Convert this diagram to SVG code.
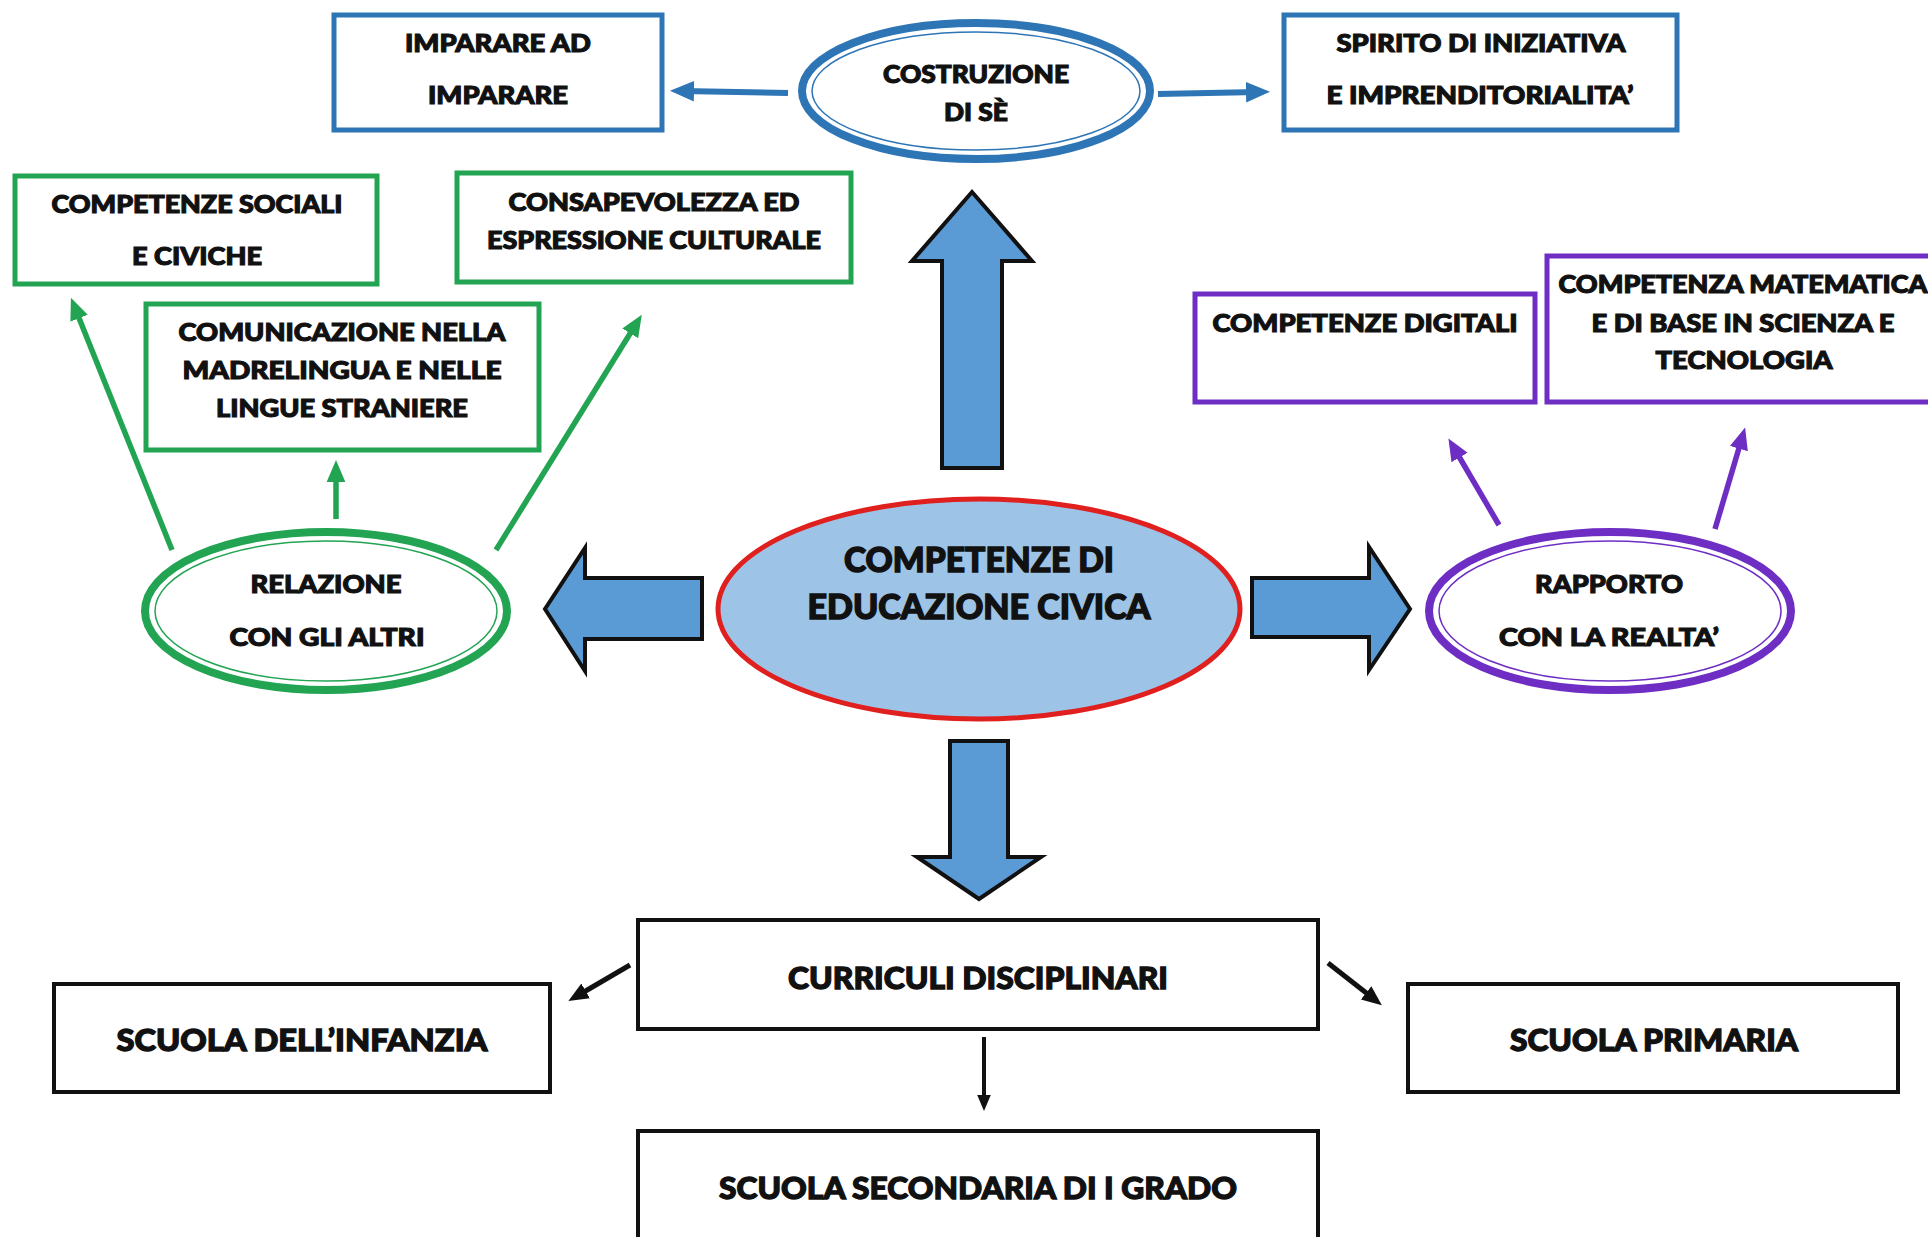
<svg xmlns="http://www.w3.org/2000/svg" width="1928" height="1237" viewBox="0 0 1928 1237">
<style>
.t{font-family:"Lato","Liberation Sans",sans-serif;font-weight:900;font-size:24px;fill:#111;stroke:#111;stroke-width:1.1px;text-anchor:middle}
.tb{font-size:34px;stroke-width:1.4px}
.tc{font-size:31px;stroke-width:1.3px}
.bbox{fill:#fff;stroke:#2E75B6;stroke-width:5}
.gbox{fill:#fff;stroke:#22A453;stroke-width:5}
.pbox{fill:#fff;stroke:#6E2EC4;stroke-width:5}
.kbox{fill:#fff;stroke:#111;stroke-width:4}
.blk{fill:#5B9BD5;stroke:#111;stroke-width:4;stroke-linejoin:miter}
</style>
<defs>
<marker id="mb" markerWidth="4" markerHeight="4" refX="2" refY="2" orient="auto" markerUnits="strokeWidth"><path d="M0,0.3 L4,2 L0,3.7 z" fill="#2E75B6"/></marker>
<marker id="mg" markerWidth="4" markerHeight="4" refX="2" refY="2" orient="auto" markerUnits="strokeWidth"><path d="M0,0.3 L4,2 L0,3.7 z" fill="#22A453"/></marker>
<marker id="mp" markerWidth="4" markerHeight="4" refX="2" refY="2" orient="auto" markerUnits="strokeWidth"><path d="M0,0.3 L4,2 L0,3.7 z" fill="#6E2EC4"/></marker>
<marker id="mk" markerWidth="4" markerHeight="4" refX="2" refY="2" orient="auto" markerUnits="strokeWidth"><path d="M0,0.3 L4,2 L0,3.7 z" fill="#111"/></marker>
</defs>
<rect width="1928" height="1237" fill="#fff"/>

<g id="connectors">
<line x1="788" y1="93" x2="682" y2="91" stroke="#2E75B6" stroke-width="6" marker-end="url(#mb)"/>
<line x1="1158" y1="94" x2="1258" y2="92" stroke="#2E75B6" stroke-width="6" marker-end="url(#mb)"/>
<line x1="172" y1="550" x2="75" y2="308" stroke="#22A453" stroke-width="5.5" marker-end="url(#mg)"/>
<line x1="336" y1="519" x2="336" y2="471" stroke="#22A453" stroke-width="5.5" marker-end="url(#mg)"/>
<line x1="496" y1="550" x2="636" y2="324" stroke="#22A453" stroke-width="5.5" marker-end="url(#mg)"/>
<line x1="1499" y1="525" x2="1454" y2="448" stroke="#6E2EC4" stroke-width="5.5" marker-end="url(#mp)"/>
<line x1="1715" y1="529" x2="1742" y2="438" stroke="#6E2EC4" stroke-width="5.5" marker-end="url(#mp)"/>
<line x1="630" y1="965" x2="577" y2="996" stroke="#111" stroke-width="5" marker-end="url(#mk)"/>
<line x1="1328" y1="963" x2="1374" y2="999" stroke="#111" stroke-width="5" marker-end="url(#mk)"/>
<line x1="984" y1="1037" x2="984" y2="1103" stroke="#111" stroke-width="4" marker-end="url(#mk)"/>
<polygon class="blk" points="942,468 942,261 912,261 972,192 1032,261 1002,261 1002,468"/>
<polygon class="blk" points="702,578 585,578 585,548 545,609 585,671 585,639 702,639"/>
<polygon class="blk" points="1252,578 1369,578 1369,547 1410,609 1369,670 1369,637 1252,637"/>
<polygon class="blk" points="950,741 1008,741 1008,857 1041,857 979,899 917,857 950,857"/>
</g>

<g id="imparare">
<rect class="bbox" x="334" y="15" width="328" height="115"/>
<text class="t" x="498" y="52" textLength="186" lengthAdjust="spacingAndGlyphs">IMPARARE AD</text>
<text class="t" x="498" y="104" textLength="140" lengthAdjust="spacingAndGlyphs">IMPARARE</text>
</g>
<g id="costruzione">
<ellipse cx="976" cy="91" rx="174" ry="68" fill="#fff" stroke="#2E75B6" stroke-width="8"/>
<ellipse cx="976" cy="91" rx="164" ry="59" fill="none" stroke="#2E75B6" stroke-width="1.5"/>
<text class="t" x="976" y="83" textLength="186" lengthAdjust="spacingAndGlyphs">COSTRUZIONE</text>
<text class="t" x="976" y="121" textLength="64" lengthAdjust="spacingAndGlyphs">DI SÈ</text>
</g>
<g id="spirito">
<rect class="bbox" x="1284" y="15" width="393" height="115"/>
<text class="t" x="1481" y="52" textLength="289" lengthAdjust="spacingAndGlyphs">SPIRITO DI INIZIATIVA</text>
<text class="t" x="1480" y="104" textLength="307" lengthAdjust="spacingAndGlyphs">E IMPRENDITORIALITA’</text>
</g>
<g id="sociali">
<rect class="gbox" x="15" y="176" width="362" height="108"/>
<text class="t" x="197" y="213" textLength="291" lengthAdjust="spacingAndGlyphs">COMPETENZE SOCIALI</text>
<text class="t" x="197" y="265" textLength="130" lengthAdjust="spacingAndGlyphs">E CIVICHE</text>
</g>
<g id="consapevolezza">
<rect class="gbox" x="457" y="173" width="394" height="109"/>
<text class="t" x="654" y="211" textLength="291" lengthAdjust="spacingAndGlyphs">CONSAPEVOLEZZA ED</text>
<text class="t" x="654" y="249" textLength="334" lengthAdjust="spacingAndGlyphs">ESPRESSIONE CULTURALE</text>
</g>
<g id="comunicazione">
<rect class="gbox" x="146" y="304" width="393" height="146"/>
<text class="t" x="342" y="341" textLength="327" lengthAdjust="spacingAndGlyphs">COMUNICAZIONE NELLA</text>
<text class="t" x="342" y="379" textLength="319" lengthAdjust="spacingAndGlyphs">MADRELINGUA E NELLE</text>
<text class="t" x="342" y="417" textLength="252" lengthAdjust="spacingAndGlyphs">LINGUE STRANIERE</text>
</g>
<g id="relazione">
<ellipse cx="326" cy="611" rx="181" ry="79" fill="#fff" stroke="#22A453" stroke-width="8"/>
<ellipse cx="326" cy="611" rx="171" ry="70" fill="none" stroke="#22A453" stroke-width="1.5"/>
<text class="t" x="326" y="593" textLength="151" lengthAdjust="spacingAndGlyphs">RELAZIONE</text>
<text class="t" x="327" y="646" textLength="195" lengthAdjust="spacingAndGlyphs">CON GLI ALTRI</text>
</g>
<g id="centrale">
<ellipse cx="979" cy="609" rx="261" ry="110" fill="#9DC3E6" stroke="#E0201E" stroke-width="5"/>
<text class="t tb" x="979" y="572" textLength="270" lengthAdjust="spacingAndGlyphs">COMPETENZE DI</text>
<text class="t tb" x="979" y="619" textLength="343" lengthAdjust="spacingAndGlyphs">EDUCAZIONE CIVICA</text>
</g>
<g id="rapporto">
<ellipse cx="1610" cy="611" rx="181" ry="79" fill="#fff" stroke="#6E2EC4" stroke-width="8"/>
<ellipse cx="1610" cy="611" rx="171" ry="70" fill="none" stroke="#6E2EC4" stroke-width="1.5"/>
<text class="t" x="1609" y="593" textLength="148" lengthAdjust="spacingAndGlyphs">RAPPORTO</text>
<text class="t" x="1609" y="646" textLength="220" lengthAdjust="spacingAndGlyphs">CON LA REALTA’</text>
</g>
<g id="digitali">
<rect class="pbox" x="1195" y="294" width="340" height="108"/>
<text class="t" x="1365" y="332" textLength="305" lengthAdjust="spacingAndGlyphs">COMPETENZE DIGITALI</text>
</g>
<g id="matematica">
<rect class="pbox" x="1547" y="256" width="390" height="146"/>
<text class="t" x="1743" y="293" textLength="369" lengthAdjust="spacingAndGlyphs">COMPETENZA MATEMATICA</text>
<text class="t" x="1743" y="332" textLength="303" lengthAdjust="spacingAndGlyphs">E DI BASE IN SCIENZA E</text>
<text class="t" x="1744" y="369" textLength="177" lengthAdjust="spacingAndGlyphs">TECNOLOGIA</text>
</g>
<g id="curriculi">
<rect class="kbox" x="638" y="920" width="680" height="109"/>
<text class="t tc" x="978" y="989" textLength="380" lengthAdjust="spacingAndGlyphs">CURRICULI DISCIPLINARI</text>
</g>
<g id="infanzia">
<rect class="kbox" x="54" y="984" width="496" height="108"/>
<text class="t tc" x="302" y="1051" textLength="371" lengthAdjust="spacingAndGlyphs">SCUOLA DELL’INFANZIA</text>
</g>
<g id="primaria">
<rect class="kbox" x="1408" y="984" width="490" height="108"/>
<text class="t tc" x="1654" y="1051" textLength="288" lengthAdjust="spacingAndGlyphs">SCUOLA PRIMARIA</text>
</g>
<g id="secondaria">
<rect class="kbox" x="638" y="1131" width="680" height="120"/>
<text class="t tc" x="978" y="1199" textLength="518" lengthAdjust="spacingAndGlyphs">SCUOLA SECONDARIA DI I GRADO</text>
</g>
</svg>
